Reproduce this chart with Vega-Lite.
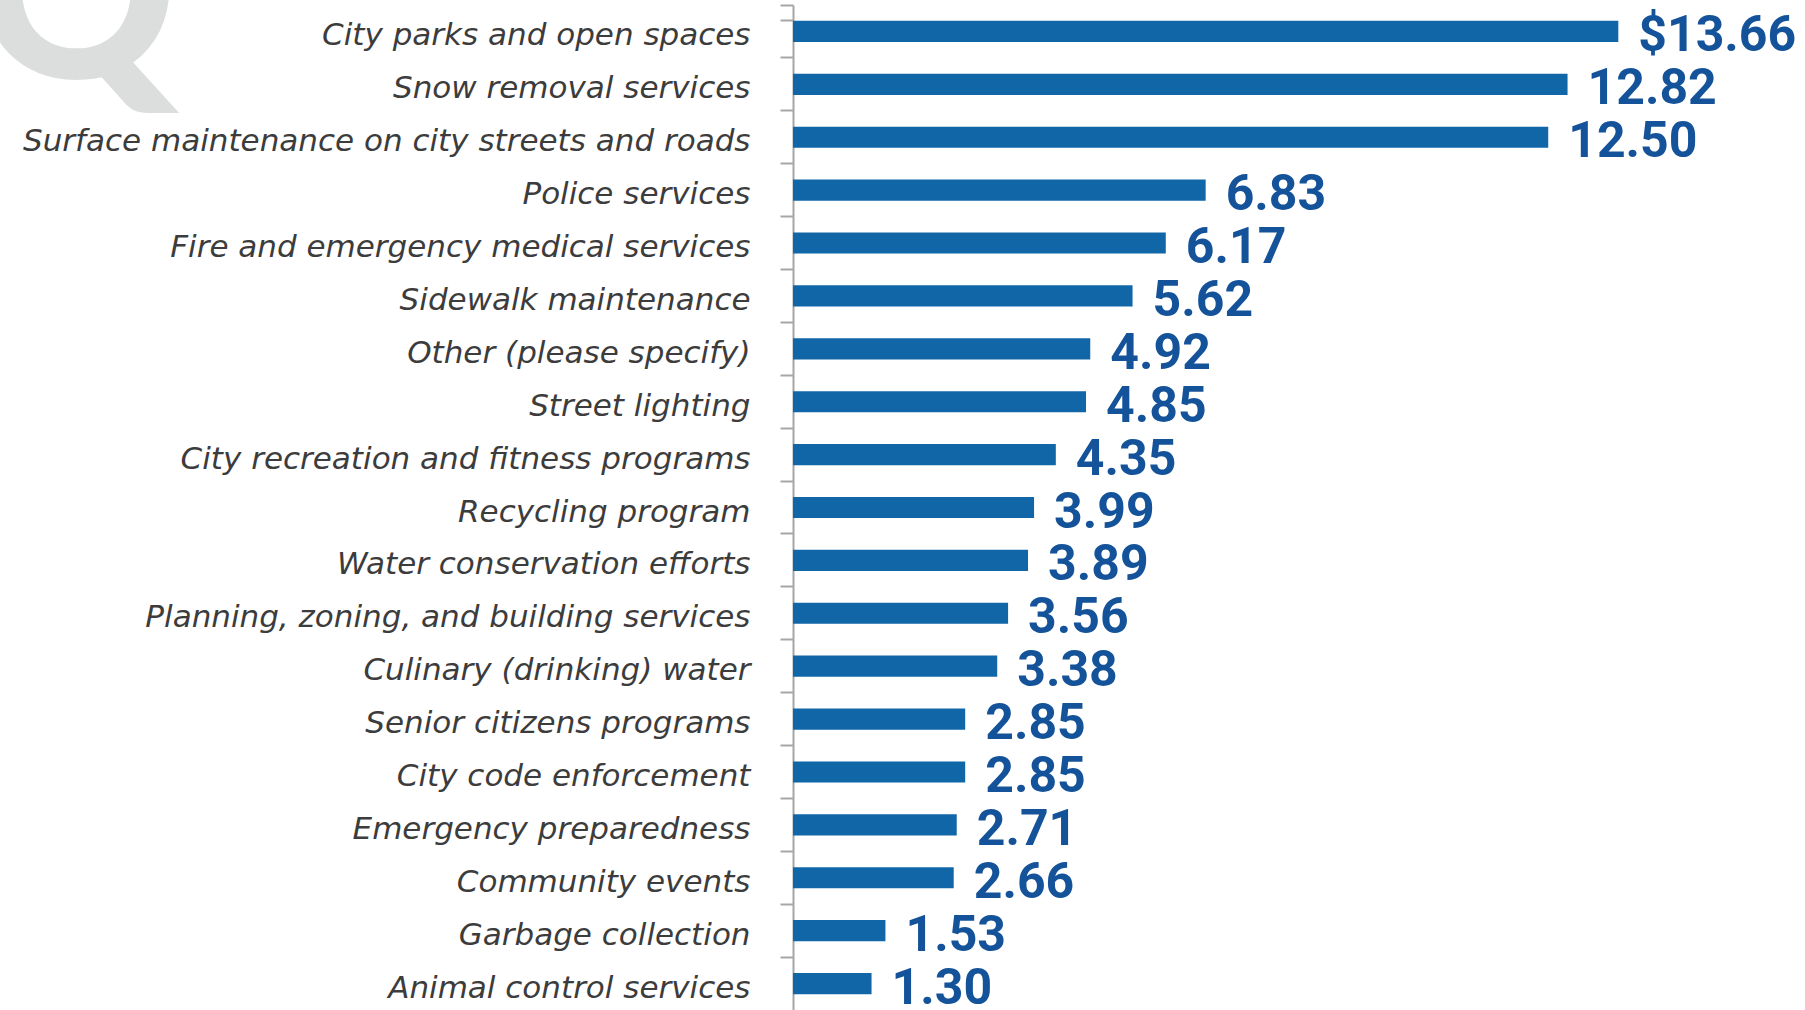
{
  "$schema": "https://vega.github.io/schema/vega-lite/v6.json",
  "autosize": {"type": "none"},
  "padding": {"left": 793, "top": 5, "right": 0, "bottom": 0},
  "width": 1012,
  "height": 1005,
  "background": "white",
  "title": {
    "text": "Q",
    "anchor": "start",
    "frame": "group",
    "orient": "top",
    "offset": 0,
    "dx": -818,
    "dy": 141,
    "font": "Lato",
    "fontWeight": 900,
    "fontSize": 250,
    "color": "#dcdddd"
  },
  "data": {
    "values": [
      {"service": "City parks and open spaces", "value": 13.66, "label": "$13.66"},
      {"service": "Snow removal services", "value": 12.82, "label": "12.82"},
      {"service": "Surface maintenance on city streets and roads", "value": 12.50, "label": "12.50"},
      {"service": "Police services", "value": 6.83, "label": "6.83"},
      {"service": "Fire and emergency medical services", "value": 6.17, "label": "6.17"},
      {"service": "Sidewalk maintenance", "value": 5.62, "label": "5.62"},
      {"service": "Other (please specify)", "value": 4.92, "label": "4.92"},
      {"service": "Street lighting", "value": 4.85, "label": "4.85"},
      {"service": "City recreation and fitness programs", "value": 4.35, "label": "4.35"},
      {"service": "Recycling program", "value": 3.99, "label": "3.99"},
      {"service": "Water conservation efforts", "value": 3.89, "label": "3.89"},
      {"service": "Planning, zoning, and building services", "value": 3.56, "label": "3.56"},
      {"service": "Culinary (drinking) water", "value": 3.38, "label": "3.38"},
      {"service": "Senior citizens programs", "value": 2.85, "label": "2.85"},
      {"service": "City code enforcement", "value": 2.85, "label": "2.85"},
      {"service": "Emergency preparedness", "value": 2.71, "label": "2.71"},
      {"service": "Community events", "value": 2.66, "label": "2.66"},
      {"service": "Garbage collection", "value": 1.53, "label": "1.53"},
      {"service": "Animal control services", "value": 1.30, "label": "1.30"}
    ]
  },
  "encoding": {
    "y": {
      "field": "service",
      "type": "nominal",
      "sort": null,
      "scale": {"paddingInner": 0.6, "paddingOuter": 0.3},
      "axis": {
        "title": null,
        "bandPosition": -0.75,
        "tickExtra": true,
        "tickSize": 13,
        "tickWidth": 2,
        "tickColor": "#a6a6a6",
        "domainColor": "#a6a6a6",
        "domainWidth": 2,
        "labelPadding": 30,
        "labelOffset": 5,
        "labelFont": "DejaVu Sans",
        "labelFontStyle": "italic",
        "labelFontSize": 31,
        "labelColor": "#3c3c3c",
        "labelLimit": 1000
      }
    },
    "x": {
      "field": "value",
      "type": "quantitative",
      "scale": {"domain": [0, 16.75], "nice": false},
      "axis": null
    }
  },
  "layer": [
    {"mark": {"type": "bar", "color": "#1166a8"}},
    {
      "mark": {
        "type": "text",
        "align": "left",
        "baseline": "middle",
        "dx": 20,
        "dy": 5,
        "font": "Roboto",
        "fontWeight": "bold",
        "fontSize": 50,
        "color": "#14539a"
      },
      "encoding": {"text": {"field": "label"}}
    }
  ],
  "config": {"view": {"stroke": null}}
}
